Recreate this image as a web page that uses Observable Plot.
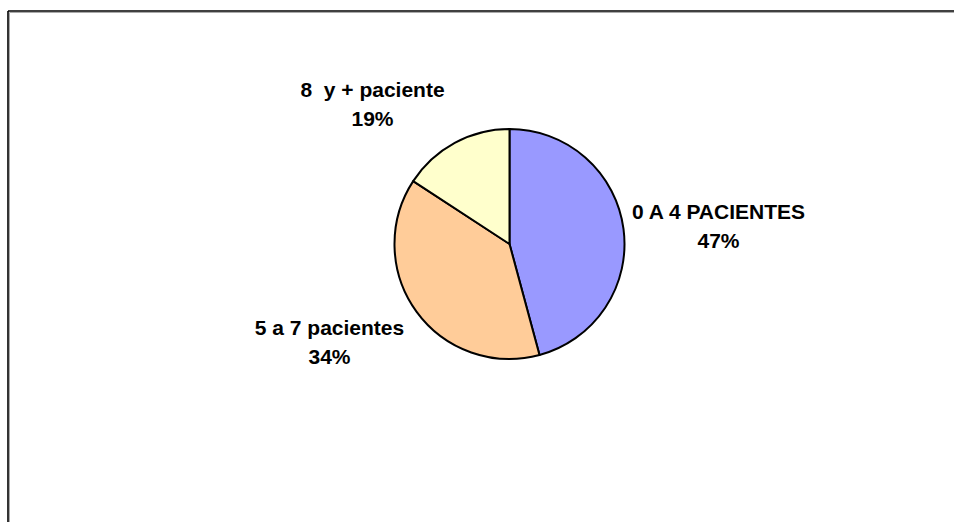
<!DOCTYPE html>
<html>
<head>
<meta charset="utf-8">
<script src="https://cdn.jsdelivr.net/npm/d3@7"></script>
<script src="https://cdn.jsdelivr.net/npm/@observablehq/plot@0.6"></script>
<style>
  html, body { margin: 0; padding: 0; background: #fff; overflow: hidden; }
  #chart svg { display: block; }
</style>
</head>
<body>
<div id="chart"></div>
<script>
// ---- data ----
const categories = ["0 A 4 PACIENTES", "5 a 7 pacientes", "8  y + paciente"];
const values = [45.8, 38.4, 15.8];          // slice sizes as drawn
const percentLabels = ["47%", "34%", "19%"]; // label text as printed
const colors = ["#9999FF", "#FFCC99", "#FFFFCC"];

// ---- layout (not data) ----
const W = 954, H = 522;
const cx = 509.5, cy = 244, R = 115;
const labelAnchors = [[718, 223.5], [329, 339.5], [372, 102]];

const rows = categories.map((c, i) => ({
  category: c, value: values[i], pct: percentLabels[i], color: colors[i],
  lx: labelAnchors[i][0], ly: labelAnchors[i][1]
}));

const arcs = d3.pie().sort(null).value(d => d.value).startAngle(0).endAngle(2 * Math.PI)(rows);
const arcGen = d3.arc().innerRadius(0).outerRadius(R);

function pieMark(index, scales) {
  const g = d3.create("svg:g");
  g.attr("transform", `translate(${scales.x(cx)},${scales.y(cy)})`);
  g.selectAll("path").data(arcs).join("path")
    .attr("d", arcGen)
    .attr("fill", d => d.data.color)
    .attr("stroke", "#000")
    .attr("stroke-width", 2)
    .attr("stroke-linejoin", "round");
  return g.node();
}

function borderMark(index, scales) {
  const g = d3.create("svg:g").attr("fill", "none");
  const x0 = scales.x(8), y0 = scales.y(11);
  g.append("line").attr("x1", x0 + 1.5).attr("x2", x0 + 1.5).attr("y1", y0 + 1.5).attr("y2", H)
    .attr("stroke", "#aaa").attr("stroke-width", 1);
  g.append("line").attr("x1", x0 + 1.5).attr("x2", W).attr("y1", y0 + 1.5).attr("y2", y0 + 1.5)
    .attr("stroke", "#aaa").attr("stroke-width", 1);
  g.append("line").attr("x1", x0).attr("x2", x0).attr("y1", y0).attr("y2", H)
    .attr("stroke", "#000").attr("stroke-width", 1.6);
  g.append("line").attr("x1", x0).attr("x2", W).attr("y1", y0).attr("y2", y0)
    .attr("stroke", "#000").attr("stroke-width", 1.6);
  return g.node();
}

const chart = Plot.plot({
  width: W, height: H,
  margin: 0,
  x: {domain: [0, W], range: [0, W], axis: null},
  y: {domain: [0, H], range: [0, H], axis: null},
  style: {background: "#fff"},
  marks: [
    borderMark,
    pieMark,
    Plot.text(rows, {
      x: "lx", y: "ly",
      text: d => d.category + "\n" + d.pct,
      fontFamily: "Liberation Sans, Arial, sans-serif",
      fontWeight: "bold",
      fontSize: 21,
      lineHeight: 1.38,
      fill: "#000",
      textAnchor: "middle",
      lineAnchor: "middle"
    })
  ]
});
document.getElementById("chart").append(chart);
</script>
</body>
</html>
